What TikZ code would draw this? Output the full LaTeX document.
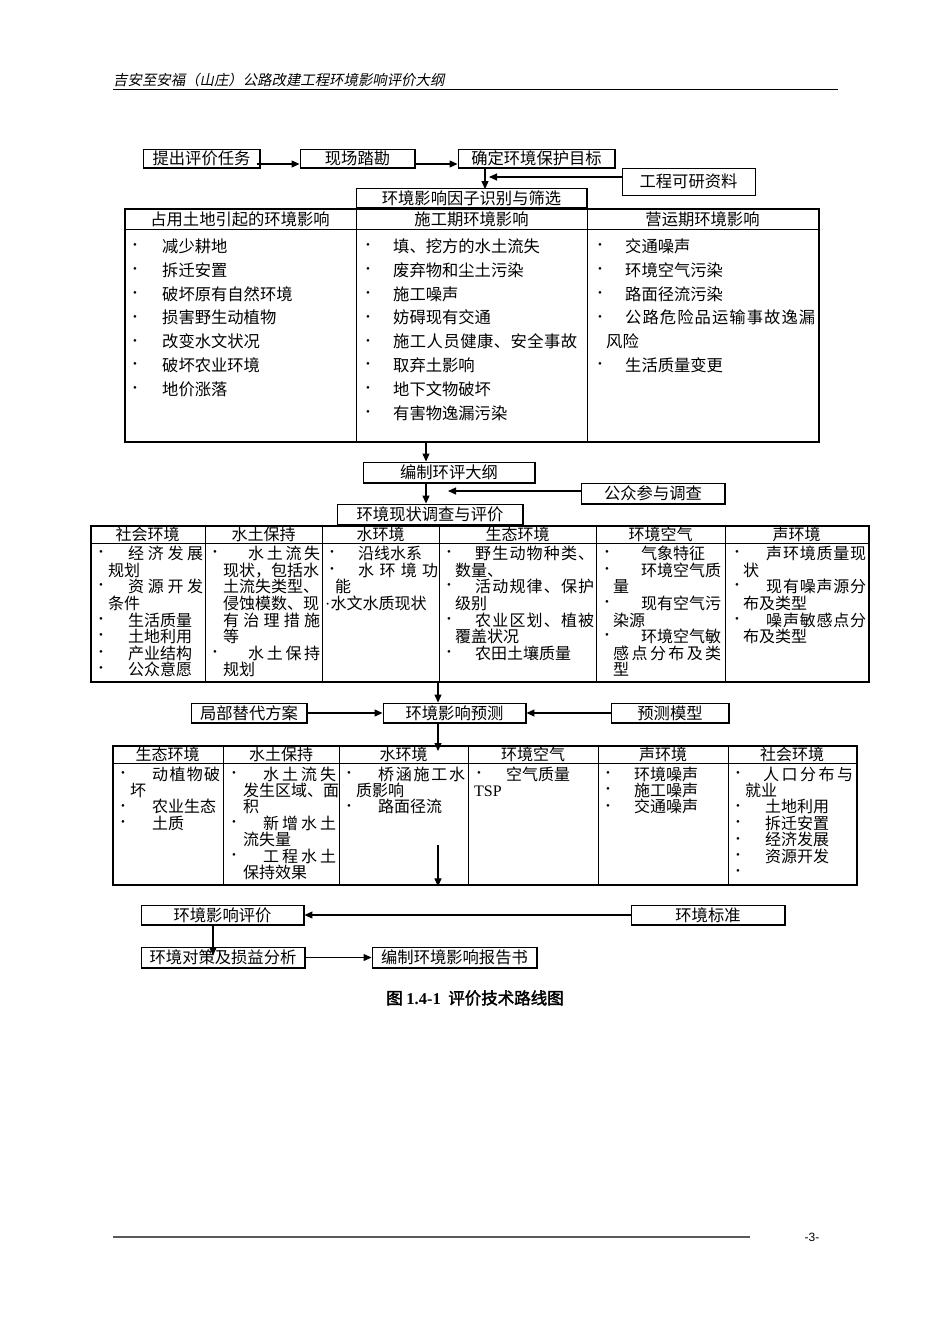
\documentclass[tikz,border=0pt]{standalone}
\usepackage{fontspec}
\setmainfont{Liberation Serif}
\newfontfamily\cjk{Noto Sans CJK SC}
\newfontfamily\cjkit{Noto Sans CJK SC}[FakeSlant=0.2]
\newfontfamily\cjkbf{Noto Sans CJK SC}[FakeBold=2]
\newfontfamily\hdsans{Liberation Sans}
\usetikzlibrary{arrows.meta,calc}
\newcommand\txtat[3]{\node[t] at (#1,#2) {#3};}
\newcommand\bulat[2]{\node[bu] at (#1,#2) {•};}
\def\jsA#1#2\jsEnd{#1\ifx\relax#2\relax\else\hfill\jsA#2\jsEnd\fi}
\newcommand\jst[2]{\makebox[#1pt][s]{\jsA#2\jsEnd}}
\begin{document}
\begin{tikzpicture}[x=1pt,y=-1pt,
  cj/.style={font=\cjk\fontsize{16.3}{18}\selectfont},
  cjs/.style={font=\cjk\fontsize{16}{17}\selectfont},
  bx/.style={draw, line width=0.9pt, inner sep=0pt, cj,
    path picture={\draw[line width=3pt] (path picture bounding box.north east) -- (path picture bounding box.south east) -- (path picture bounding box.south west);}},
  tbx/.style={draw, line width=0.9pt, inner sep=0pt, cj},
  tbl/.style={draw, line width=2.4pt, inner sep=0pt, anchor=north west},
  t/.style={anchor=west, inner sep=0pt, text height=1.2em, text depth=0em},
  bu/.style={anchor=west, inner sep=0pt, font=\rmfamily\fontsize{11}{12}\selectfont},
  hd/.style={anchor=center, inner sep=0pt, text height=1.2em, text depth=0em},
  arr/.style={-{Triangle[length=8pt,width=7pt]}, line width=1.1pt},
  inl/.style={line width=0.8pt},
]
\useasboundingbox (0,0) rectangle (950,1344);
\fill[white] (0,0) rectangle (950,1344);

% page header and footer
\node[anchor=west, inner sep=0pt, font=\cjkit\fontsize{14.4}{16}\selectfont] (hdr) at (113,80) {吉安至安福（山庄）公路改建工程环境影响评价大纲};
\draw[line width=1pt] (113,89) -- (838,89);
\draw[line width=2pt, black!65] (113,1237) -- (750,1237);
\node[inner sep=0pt, font=\hdsans\fontsize{12}{14}\selectfont] (pg) at (812,1237) {-3-};

% ---------- top row ----------
\node[bx, minimum width=117, minimum height=19] (B1) at (201.5,158.5) {提出评价任务};
\node[bx, minimum width=115, minimum height=19] (B2) at (357.5,158.5) {现场踏勘};
\node[bx, minimum width=157, minimum height=19] (B3) at (536.5,158.5) {确定环境保护目标};
\node[tbx, minimum width=133, minimum height=27] (GK) at (688.5,181.5) {工程可研资料};
\node[bx, minimum width=231, minimum height=20] (F1) at (471.5,198.5) {环境影响因子识别与筛选};

\draw[arr] ([xshift=-3pt,yshift=-5.5pt]B1.east) -- ([yshift=-5.5pt]B2.west);
\draw[arr] ([yshift=-5.5pt]B2.east) -- ([yshift=-5.5pt]B3.west);
\coordinate (c1) at (485,0);
\draw[arr] (B3.south -| c1) -- ([yshift=-1pt]F1.north -| c1);
\coordinate (v1) at (489,177);
\draw[arr] (GK.west |- v1) -- (v1);

% ---------- table 1 ----------
\node[tbl, minimum width=694, minimum height=233] (T1) at (124,208) {};
\draw[inl] (124,229) -- (818,229);
\draw[inl] (356,208) -- (356,441);
\draw[inl] (587,208) -- (587,441);
\node[hd, cj] (h11) at (240,219.5) {占用土地引起的环境影响};
\node[hd, cj] (h12) at (471.5,219.5) {施工期环境影响};
\node[hd, cj] (h13) at (702.5,219.5) {营运期环境影响};
\begin{scope}[every node/.append style={cj}]
\foreach \txt [count=\i from 0] in {减少耕地,拆迁安置,破坏原有自然环境,损害野生动植物,改变水文状况,破坏农业环境,地价涨落}{
  \bulat{133}{246.5+23.8*\i}\txtat{162}{246.5+23.8*\i}{\txt}}
\foreach \txt [count=\i from 0] in {填、挖方的水土流失,废弃物和尘土污染,施工噪声,妨碍现有交通,{\jst{184}{施工人员健康、安全事故}},取弃土影响,地下文物破坏,有害物逸漏污染}{
  \bulat{366}{246.5+23.8*\i}\txtat{393}{246.5+23.8*\i}{\txt}}
\bulat{598}{246.5}\txtat{625}{246.5}{交通噪声}
\bulat{598}{270.3}\txtat{625}{270.3}{环境空气污染}
\bulat{598}{294.1}\txtat{625}{294.1}{路面径流污染}
\bulat{598}{317.9}\txtat{625}{317.9}{\jst{190}{公路危险品运输事故逸漏}}
\txtat{606}{341.7}{风险}
\bulat{598}{365.5}\txtat{625}{365.5}{生活质量变更}
\end{scope}

% ---------- middle ----------
\node[bx, minimum width=172, minimum height=21] (G1) at (449,472.5) {编制环评大纲};
\node[bx, minimum width=144, minimum height=21] (GZ) at (653,493.5) {公众参与调查};
\node[bx, minimum width=186, minimum height=21] (S1) at (430,514.5) {环境现状调查与评价};
\coordinate (c2) at (426,0);
\draw[arr] (T1.south -| c2) -- (G1.north -| c2);
\draw[arr] (G1.south -| c2) -- (S1.north -| c2);
\coordinate (v2) at (448,491);
\draw[arr] (GZ.west |- v2) -- (v2);

% ---------- table 2 ----------
\node[tbl, minimum width=778, minimum height=156] (T2) at (90,525) {};
\draw[inl] (90,543.5) -- (868,543.5);
\foreach \xx in {205,322,439,596,725} \draw[inl] (\xx,525) -- (\xx,681);
\begin{scope}[every node/.append style={cjs}]
\node[hd] (h21) at (147.5,534.5) {社会环境};
\node[hd] (h22) at (263.5,534.5) {水土保持};
\node[hd] (h23) at (380.5,534.5) {水环境};
\node[hd] (h24) at (517.5,534.5) {生态环境};
\node[hd] (h25) at (660.5,534.5) {环境空气};
\node[hd] (h26) at (796.5,534.5) {声环境};
% col 1
\bulat{99}{553}\txtat{128}{553}{\jst{75}{经济发展}}
\txtat{108}{570}{规划}
\bulat{99}{586.5}\txtat{128}{586.5}{\jst{75}{资源开发}}
\txtat{108}{603}{条件}
\bulat{99}{620}\txtat{128}{620}{生活质量}
\bulat{99}{636.5}\txtat{128}{636.5}{土地利用}
\bulat{99}{653}\txtat{128}{653}{产业结构}
\bulat{99}{669.5}\txtat{128}{669.5}{公众意愿}
% col 2
\bulat{213}{553}\txtat{248}{553}{\jst{72}{水土流失}}
\txtat{223}{570}{现状，包括水}
\txtat{223}{586.5}{土流失类型、}
\txtat{223}{603}{侵蚀模数、现}
\txtat{223}{620}{\jst{97}{有治理措施}}
\txtat{223}{636.5}{等}
\bulat{213}{653}\txtat{248}{653}{\jst{72}{水土保持}}
\txtat{223}{669.5}{规划}
% col 3
\bulat{330}{553}\txtat{358}{553}{沿线水系}
\bulat{330}{570}\txtat{358}{570}{\jst{80}{水环境功}}
\txtat{335}{586.5}{能}
\txtat{325}{603}{{\rmfamily ·}水文水质现状}
% col 4
\bulat{447}{553}\txtat{475}{553}{\jst{119}{野生动物种类、}}
\txtat{455}{570}{数量、}
\bulat{447}{586.5}\txtat{475}{586.5}{\jst{119}{活动规律、保护}}
\txtat{455}{603}{级别}
\bulat{447}{620}\txtat{475}{620}{\jst{119}{农业区划、植被}}
\txtat{455}{636.5}{覆盖状况}
\bulat{447}{653}\txtat{475}{653}{农田土壤质量}
% col 5
\bulat{605}{553}\txtat{641}{553}{气象特征}
\bulat{605}{570}\txtat{641}{570}{\jst{80}{环境空气质}}
\txtat{613}{586.5}{量}
\bulat{605}{603}\txtat{641}{603}{\jst{80}{现有空气污}}
\txtat{613}{620}{染源}
\bulat{605}{636.5}\txtat{641}{636.5}{\jst{80}{环境空气敏}}
\txtat{613}{653}{\jst{108}{感点分布及类}}
\txtat{613}{669.5}{型}
% col 6
\bulat{735}{553}\txtat{766}{553}{\jst{100}{声环境质量现}}
\txtat{743}{570}{状}
\bulat{735}{586.5}\txtat{766}{586.5}{\jst{100}{现有噪声源分}}
\txtat{743}{603}{布及类型}
\bulat{735}{620}\txtat{766}{620}{\jst{100}{噪声敏感点分}}
\txtat{743}{636.5}{布及类型}
\end{scope}

% ---------- prediction row ----------
\node[bx, minimum width=116, minimum height=20] (JB) at (249,713) {局部替代方案};
\node[bx, minimum width=143, minimum height=20] (YC) at (454.5,713) {环境影响预测};
\node[bx, minimum width=118, minimum height=20] (MX) at (670,713) {预测模型};
\coordinate (c3) at (438,0);
\draw[arr] (T2.south -| c3) -- (YC.north -| c3);
\draw[arr] (JB.east) -- (YC.west);
\draw[arr] (MX.west) -- (YC.east);

% ---------- table 3 ----------
\node[tbl, minimum width=744, minimum height=139] (T3) at (112,745) {};
\draw[inl] (112,763) -- (856,763);
\foreach \xx in {223,339,468,598,728} \draw[inl] (\xx,745) -- (\xx,884);
\draw[arr] (YC.south -| c3) -- ($(T3.north -| c3)+(0,6)$);
\coordinate (v3) at (438,845);
\draw[arr] (v3) -- (T3.south -| v3);
\begin{scope}[every node/.append style={cjs}]
\node[hd] (h31) at (167.5,754.5) {生态环境};
\node[hd] (h32) at (281,754.5) {水土保持};
\node[hd] (h33) at (403.5,754.5) {水环境};
\node[hd] (h34) at (533,754.5) {环境空气};
\node[hd] (h35) at (663,754.5) {声环境};
\node[hd] (h36) at (792,754.5) {社会环境};
% col 1
\bulat{121}{774}\txtat{152}{774}{\jst{68}{动植物破}}
\txtat{130}{790.4}{坏}
\bulat{121}{806.8}\txtat{152}{806.8}{农业生态}
\bulat{121}{823.2}\txtat{152}{823.2}{土质}
% col 2
\bulat{232}{774}\txtat{263}{774}{\jst{73}{水土流失}}
\txtat{243}{790.4}{\jst{93}{发生区域、面}}
\txtat{243}{806.8}{积}
\bulat{232}{823.2}\txtat{263}{823.2}{\jst{73}{新增水土}}
\txtat{243}{839.6}{流失量}
\bulat{232}{856}\txtat{263}{856}{\jst{73}{工程水土}}
\txtat{243}{872.4}{保持效果}
% col 3
\bulat{347}{774}\txtat{378}{774}{\jst{87}{桥涵施工水}}
\txtat{356}{790.4}{质影响}
\bulat{347}{806.8}\txtat{378}{806.8}{路面径流}
% col 4
\bulat{477}{774}\txtat{506}{774}{空气质量}
\txtat{474}{790.4}{{\rmfamily\fontsize{16}{17}\selectfont TSP}}
% col 5
\bulat{606}{774}\txtat{634}{774}{环境噪声}
\bulat{606}{790.4}\txtat{634}{790.4}{施工噪声}
\bulat{606}{806.8}\txtat{634}{806.8}{交通噪声}
% col 6
\bulat{736}{774}\txtat{763}{774}{\jst{90}{人口分布与}}
\txtat{745}{790.4}{就业}
\bulat{736}{806.8}\txtat{765}{806.8}{土地利用}
\bulat{736}{823.2}\txtat{765}{823.2}{拆迁安置}
\bulat{736}{839.6}\txtat{765}{839.6}{经济发展}
\bulat{736}{856}\txtat{765}{856}{资源开发}
\bulat{736}{872.4}
\end{scope}

% ---------- bottom rows ----------
\node[bx, minimum width=163, minimum height=20] (PJ) at (222.5,915) {环境影响评价};
\node[bx, minimum width=154, minimum height=20] (BZ) at (708,915) {环境标准};
\node[bx, minimum width=164, minimum height=21] (DC) at (223,957.5) {环境对策及损益分析};
\node[bx, minimum width=165, minimum height=21] (BG) at (454.5,957.5) {编制环境影响报告书};
\draw[arr] (BZ.west) -- (PJ.east);
\coordinate (c4) at (213,0);
\draw[arr] (PJ.south -| c4) -- ($(DC.north -| c4)+(0,9)$);
\draw[arr] (DC.east) -- (BG.west);

\node[inner sep=0pt, font=\cjkbf\fontsize{16.5}{18}\selectfont] (cap) at (475,998) {图 {\rmfamily\bfseries 1.4-1}\ \ 评价技术路线图};
\end{tikzpicture}
\end{document}
